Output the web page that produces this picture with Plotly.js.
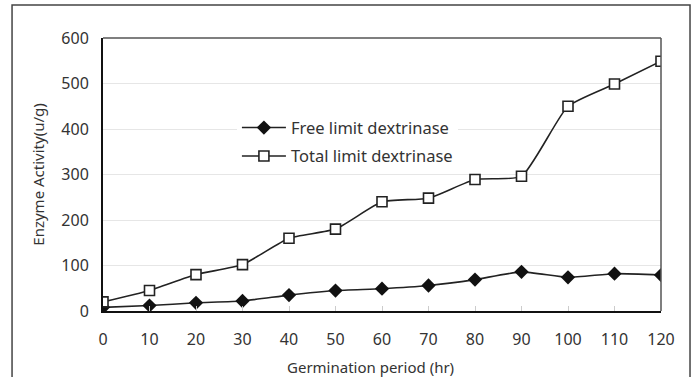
<!DOCTYPE html>
<html><head><meta charset="utf-8">
<script src="https://cdn.plot.ly/plotly-3.0.1.min.js"></script>
<style>html,body{margin:0;padding:0;background:#fff}#c{width:697px;height:377px}</style>
</head><body><div id="c"></div>
<script>
const hours = [0,10,20,30,40,50,60,70,80,90,100,110,120];
const freeLD = [8,12,18,22,35,45,49,56,69,86,74,82,79];
const totalLD = [20,45,80,102,160,180,240,248,289,296,450,499,549];
const xTicks = [0,10,20,30,40,50,60,70,80,90,100,110,120];
const yTicks = [0,100,200,300,400,500,600];
const xTitle = 'Germination period (hr)';
const yTitle = 'Enzyme Activity(u/g)';

const fam = '"Noto Sans", sans-serif';
const txt = '#333';
const traces = [
  {x:hours, y:freeLD, name:'Free limit dextrinase', mode:'lines+markers', legendgroup:'a',
   line:{color:'#222', width:1.6, shape:'spline', smoothing:0.5},
   marker:{symbol:'diamond', size:11, color:'#111'}},
  {x:hours, y:totalLD, name:'Total limit dextrinase', mode:'lines+markers', legendgroup:'b',
   line:{color:'#222', width:1.6, shape:'spline', smoothing:0.5},
   marker:{symbol:'square', size:10, color:'#fff', line:{color:'#222', width:1.6}}}
];
const layout = {
  width:697, height:377,
  margin:{l:103, r:36, t:38, b:66},
  paper_bgcolor:'#fff', plot_bgcolor:'#fff',
  font:{family:fam, size:15, color:txt}, showlegend:true,
  legend:{x:0.24, y:0.735, xanchor:'left', yanchor:'top', bgcolor:'#fff',
          font:{family:fam, size:16.5, color:txt}, traceorder:'grouped', tracegroupgap:4, itemwidth:44},
  xaxis:{range:[0,120], tickvals:xTicks, showgrid:false, zeroline:false,
         showline:true, linecolor:'#111', linewidth:2,
         ticks:'inside', ticklen:5, tickcolor:'#ccc', ticklabelstandoff:13,
         tickfont:{family:fam, size:16, color:txt}},
  yaxis:{range:[0,600], tickvals:yTicks, showgrid:true, gridcolor:'#e6e6e6', gridwidth:1,
         zeroline:false, showline:true, linecolor:'#111', linewidth:2, ticks:'', ticklabelstandoff:9,
         tickfont:{family:fam, size:16, color:txt},
         title:{text:yTitle, font:{family:fam, size:15, color:txt}, standoff:13}},
  annotations:[
    {text:xTitle, xref:'paper', yref:'paper', x:0.4785, y:-0.205, xanchor:'center', yanchor:'middle',
     showarrow:false, font:{family:fam, size:15, color:txt}}
  ],
  shapes:[
    {type:'line', xref:'paper', yref:'paper', x0:0, x1:1, y0:1, y1:1, line:{color:'#555', width:1.5}},
    {type:'line', xref:'paper', yref:'paper', x0:1, x1:1, y0:0, y1:1, line:{color:'#555', width:1.5}},
    {type:'rect', xref:'paper', yref:'paper', x0:-0.163, x1:1.052, y0:-0.3, y1:1.121, line:{color:'#444', width:1.5}}
  ]
};
Plotly.newPlot('c', traces, layout, {displayModeBar:false, staticPlot:true});
</script></body></html>
